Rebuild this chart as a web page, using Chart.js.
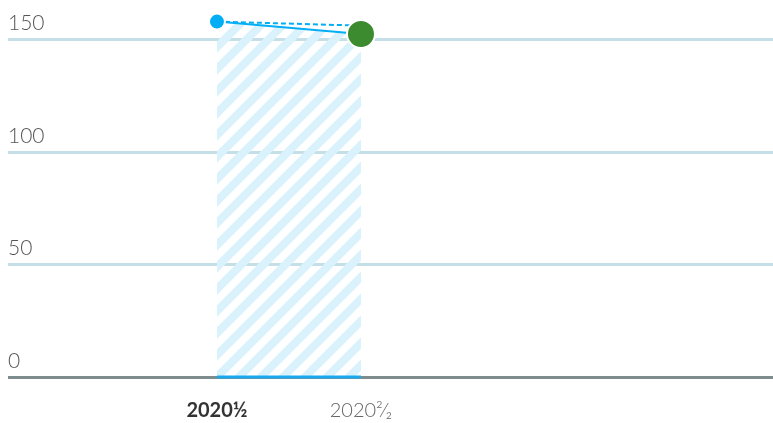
<!DOCTYPE html>
<html>
<head>
<meta charset="utf-8">
<script src="https://cdn.jsdelivr.net/npm/chart.js@4"></script>
<style>
  html, body { margin: 0; padding: 0; background: #fff; }
  #wrap { width: 773px; height: 423px; position: relative; }
</style>
</head>
<body>
<div id="wrap"><canvas id="chart"></canvas></div>
<script>
// data
const categories = ['2020\u00bd', '2020\u00b2\u2044\u2082'];
const actual = [158, 152.5];      // solid line, blue dot then green dot
const projected = [158, 156.2];   // dotted line
const baseline = [0, 0];
const yTicks = [0, 50, 100, 150];

function hatch() {
    const s = 22;
    const c = document.createElement('canvas');
    c.width = s; c.height = s;
    const g = c.getContext('2d');
    g.strokeStyle = '#d9f2fc';
    g.lineWidth = 8;
    [[0, s, s, 0], [-s, s, s, -s], [0, 2 * s, 2 * s, 0]].forEach(l => {
        g.beginPath();
        g.moveTo(l[0], l[1]);
        g.lineTo(l[2], l[3]);
        g.stroke();
    });
    return g.createPattern(c, 'repeat');
}

const xy = arr => arr.map((v, i) => ({ x: i, y: v }));

const ctx = document.getElementById('chart').getContext('2d');
new Chart(ctx, {
    type: 'line',
    data: {
        datasets: [
            {
                data: xy(actual),
                borderColor: '#03aef5',
                borderWidth: 2,
                backgroundColor: hatch(),
                fill: 'origin',
                pointRadius: [8, 14],
                pointBackgroundColor: ['#03aef5', '#3d8b2f'],
                pointBorderColor: '#fff',
                pointBorderWidth: 2,
                clip: false
            },
            {
                data: xy(projected),
                borderColor: '#03aef5',
                borderWidth: 2,
                borderDash: [5, 3],
                pointRadius: 0,
                fill: false
            },
            {
                data: xy(baseline),
                borderColor: '#1aa9ee',
                borderWidth: 3,
                pointRadius: 0,
                fill: false,
                clip: false,
                order: -1
            }
        ]
    },
    options: {
        responsive: true,
        maintainAspectRatio: false,
        animation: false,
        layout: { autoPadding: false, padding: { left: 8, right: 0, top: 0, bottom: -14 } },
        plugins: { legend: { display: false }, tooltip: { enabled: false } },
        scales: {
            x: {
                type: 'linear',
                min: -1.451,
                max: 3.861,
                afterBuildTicks: axis => { axis.ticks = categories.map((c, i) => ({ value: i })); },
                grid: { display: false },
                border: { display: false },
                ticks: {
                    autoSkip: false,
                    maxRotation: 0,
                    padding: 14,
                    callback: v => categories[v],
                    color: c => c.index === 0 ? '#333' : '#666',
                    font: c => ({ family: 'Lato', size: 20, weight: c.index === 0 ? 'bold' : 300 })
                }
            },
            y: {
                min: 0,
                max: 162,
                afterBuildTicks: axis => { axis.ticks = yTicks.map(v => ({ value: v })); },
                border: { display: false },
                grid: {
                    drawTicks: false,
                    lineWidth: 3,
                    color: c => c.tick && c.tick.value === 0 ? '#7f8c8d' : '#c4dfe7'
                },
                ticks: {
                    mirror: true,
                    padding: 0,
                    labelOffset: -16,
                    color: '#555',
                    font: { family: 'Lato', size: 21, weight: 300 }
                }
            }
        }
    }
});
</script>
</body>
</html>
